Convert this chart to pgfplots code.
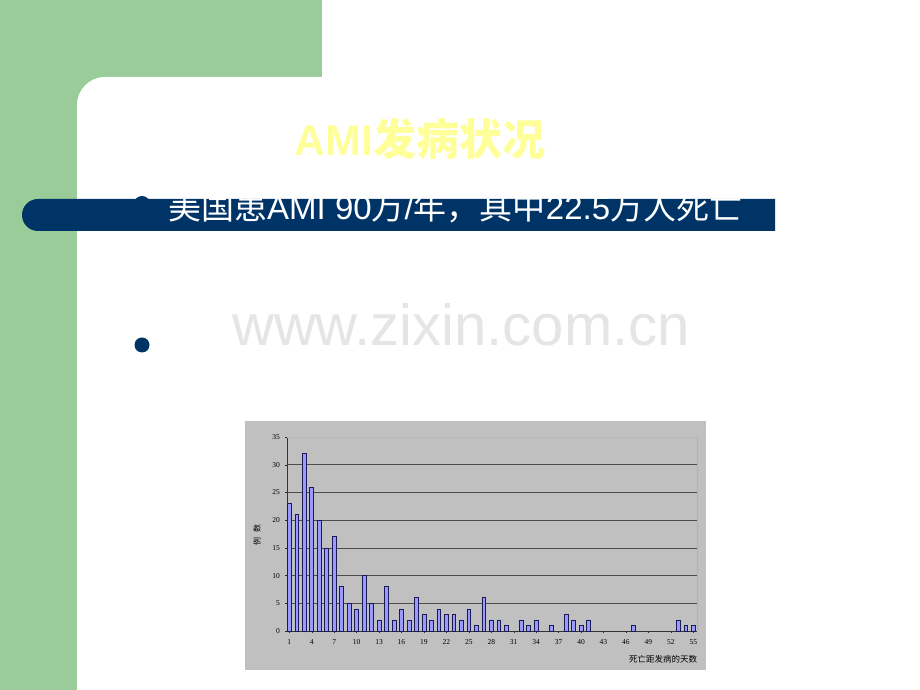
\documentclass[border=0pt]{standalone}
\usepackage{fontspec}
\setmainfont{Liberation Serif}
\newfontfamily\cjk{Noto Sans CJK SC}
\newfontfamily\arial{Liberation Sans}
\usepackage{pgfplots}
\pgfplotsset{compat=1.18}
\definecolor{slidegreen}{HTML}{99CC99}
\definecolor{navy}{HTML}{003366}
\definecolor{titleyellow}{HTML}{FFFF99}
\definecolor{chartgray}{HTML}{C0C0C0}
\definecolor{barfill}{HTML}{9999FF}
\definecolor{baredge}{HTML}{1A1A55}

\begin{document}
\begin{tikzpicture}[x=1pt,y=1pt]
\useasboundingbox (0,0) rectangle (920,690);
\clip (0,0) rectangle (920,690);
% slide background
\fill[white] (0,0) rectangle (920,690);
\fill[slidegreen] (0,585) rectangle (322,690);
\fill[slidegreen] (0,0) rectangle (77,690);
\fill[white] (930,-10) -- (77,-10) -- (77,585) arc[start angle=180,end angle=90,radius=28] -- (930,613) -- cycle;

% title
\node[text=titleyellow, font=\cjk\bfseries\fontsize{43}{43}\selectfont] at (420,551) {{\arial\bfseries AMI}发病状况};

% first bullet line on the blue band
\fill[navy] (142,486) circle (8);
\fill[navy] (775,459) -- (38,459) arc[start angle=270,end angle=90,radius=16] -- (775,491) -- cycle;
\begin{scope}
  \clip (0,0) rectangle (775,690);
  \node[anchor=base west, inner sep=0, text=white, font=\cjk\fontsize{33}{33}\selectfont]
    at (168,470) {美国患{\arial AMI 90}万{\arial /}年，其中{\arial 22.5}万人死亡};
\end{scope}

% second bullet
\fill[navy] (142,345) circle (7.5);

% watermark
\node[anchor=base west, inner sep=0, text=black!10, font=\arial\fontsize{58}{58}\selectfont]
  at (232,344) {www.zixin.com.cn};

% chart
\fill[chartgray] (245,20) rectangle (706,269);

\begin{axis}[
  at={(287pt,59pt)}, anchor=south west,
  scale only axis, width=410pt, height=194pt,
  xmin=0.7, xmax=55.5, ymin=0, ymax=35,
  xtick={1,4,...,55}, ytick={0,5,...,35},
  axis lines*=left,
  axis line style={-, black!80},
  ymajorgrids, grid style={black!70, line width=0.7pt},
  tick align=outside, major tick length=2.5pt,
  tick style={black!80},
  ticklabel style={font=\fontsize{7.5}{7.5}\selectfont},
  /pgf/number format/assume math mode=true,
  yticklabel style={xshift=-1pt},
  xticklabel style={yshift=-2pt, text height=5pt, text depth=0pt},
  clip=false,
]
\addplot[ybar, bar width=3.8pt, fill=barfill, draw=baredge, line width=0.6pt]
coordinates {
  (1,23) (2,21) (3,32) (4,26) (5,20) (6,15) (7,17) (8,8) (9,5) (10,4)
  (11,10) (12,5) (13,2) (14,8) (15,2) (16,4) (17,2) (18,6) (19,3) (20,2)
  (21,4) (22,3) (23,3) (24,2) (25,4) (26,1) (27,6) (28,2) (29,2) (30,1)
  (32,2) (33,1) (34,2) (36,1) (38,3) (39,2) (40,1) (41,2)
  (47,1) (53,2) (54,1) (55,1)
};
\draw[gray!60] (rel axis cs:1,0) -- (rel axis cs:1,1);
\draw[gray!55, line width=0.7pt] (rel axis cs:0,1) -- (rel axis cs:1,1);
\end{axis}

\node[rotate=90, font=\cjk\fontsize{8}{8}\selectfont] at (257,155) {例\hspace{0.7em}数};
\node[font=\cjk\fontsize{8.5}{8.5}\selectfont] at (663,31) {死亡距发病的天数};
\end{tikzpicture}
\end{document}
